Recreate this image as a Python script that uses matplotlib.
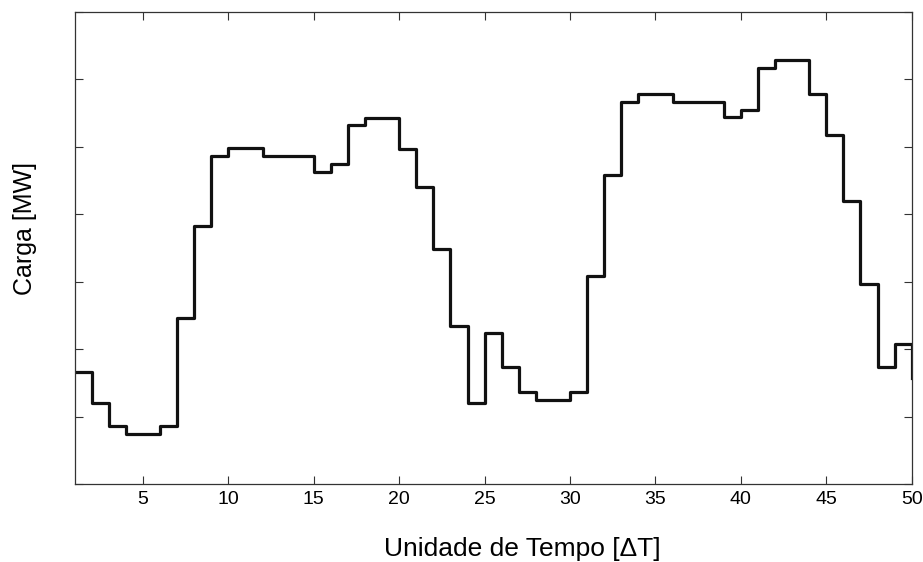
import matplotlib
matplotlib.use("Agg")
import matplotlib.pyplot as plt

# Data (step values, stairs from t=1..50)
time_units = list(range(1, 51))
load_mw = [666, 620, 586, 574, 574, 586, 746, 882, 987, 998,
           998, 987, 987, 987, 963, 975, 1032, 1043, 1043, 997,
           940, 849, 734, 620, 724, 674, 637, 625, 625, 637,
           809, 958, 1066, 1079, 1079, 1067, 1067, 1067, 1044, 1055,
           1117, 1129, 1129, 1079, 1018, 920, 797, 673, 707, 657]
x_ticks = [5, 10, 15, 20, 25, 30, 35, 40, 45, 50]
y_ticks = [500, 600, 700, 800, 900, 1000, 1100, 1200]

plt.rcParams['font.family'] = ['Liberation Sans', 'DejaVu Sans']

fig = plt.figure(figsize=(9.23, 5.62), dpi=100)
ax = fig.add_axes([74.7/923, 78/562, 837/923, 472/562])

ax.step(time_units, load_mw, where='post', color='#111111', linewidth=2.3)

ax.set_xlim(1, 50)
ax.set_ylim(500, 1200)
ax.set_xticks(x_ticks)
ax.set_xticklabels([str(t) for t in x_ticks])
ax.set_yticks(y_ticks)
ax.set_yticklabels([])

ax.tick_params(axis='both', direction='in', length=6, width=0.8, color='#333333',
               top=True, right=True, labelsize=14, pad=5)
for s in ax.spines.values():
    s.set_linewidth(0.9)
    s.set_color('#333333')

ax.set_xlabel('Unidade de Tempo [\u0394T]', fontsize=19)
ax.set_ylabel('Carga [MW]', fontsize=18)
ax.xaxis.set_label_coords(0.535, -0.138)
ax.xaxis.label.set_va('center')
ax.yaxis.set_label_coords(-0.0597, 0.542)
ax.yaxis.label.set_va('center')

fig.savefig('out.png', dpi=100)
